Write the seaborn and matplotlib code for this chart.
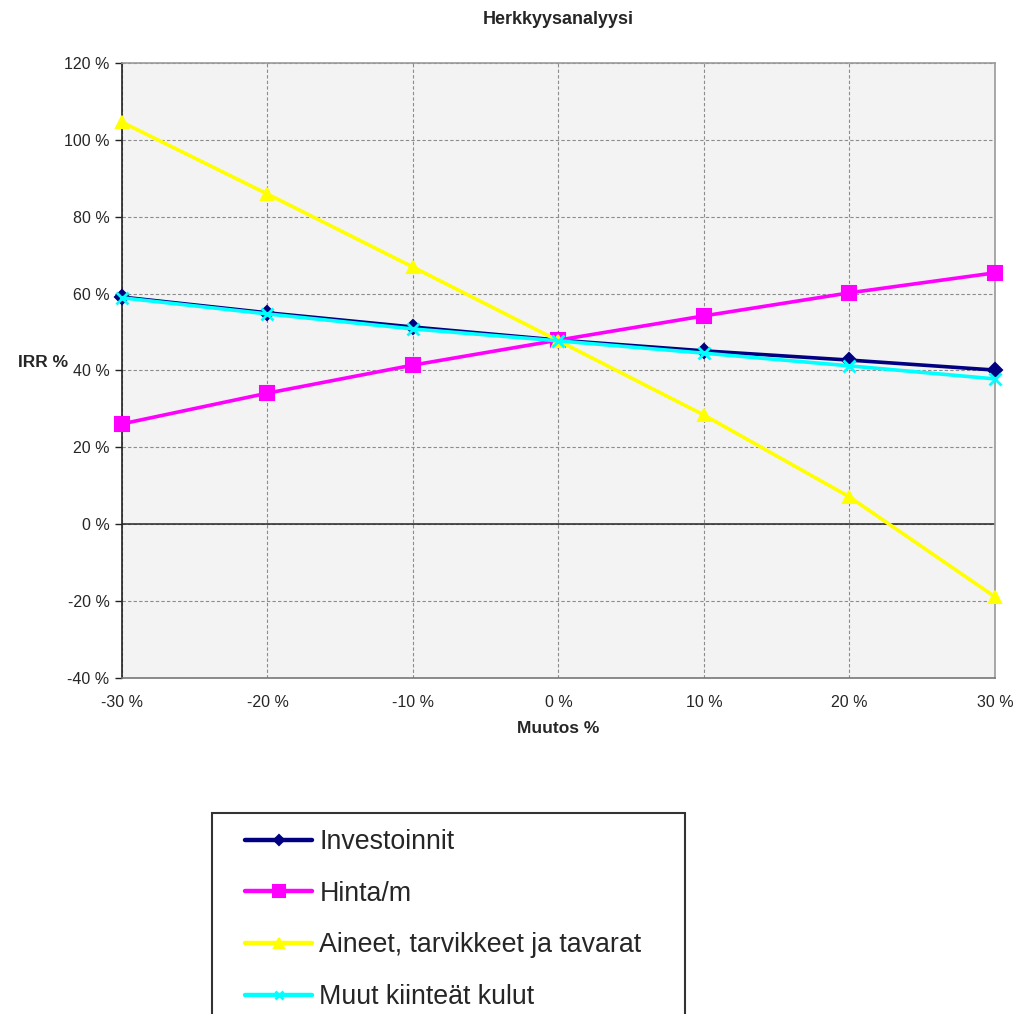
import matplotlib
matplotlib.use("Agg")
import matplotlib.pyplot as plt
from matplotlib.patches import Rectangle
from matplotlib.ticker import FuncFormatter, MultipleLocator
import seaborn as sns
import pandas as pd

# Sensitivity analysis: IRR % as a function of change %
muutos = [-30, -20, -10, 0, 10, 20, 30]
investoinnit = [59.1, 55.0, 51.3, 47.9, 45.1, 42.7, 40.1]
hinta_m = [26.1, 34.1, 41.4, 47.9, 54.2, 60.2, 65.4]
aineet = [104.6, 85.9, 66.9, 47.7, 28.4, 7.1, -18.9]
muut_kulut = [58.9, 54.7, 50.8, 47.7, 44.5, 41.2, 37.8]

series_names = ["Investoinnit", "Hinta/m", "Aineet, tarvikkeet ja tavarat", "Muut kiinteät kulut"]
series_values = [investoinnit, hinta_m, aineet, muut_kulut]

sns.set_theme(style="white")
plt.rcParams["font.family"] = ["Liberation Sans", "DejaVu Sans"]

rows = []
for name, vals in zip(series_names, series_values):
    for x, y in zip(muutos, vals):
        rows.append({"Muutos": x, "IRR": y, "Sarja": name})
df = pd.DataFrame(rows)

colors = {
    "Investoinnit": "#000080",
    "Hinta/m": "#ff00ff",
    "Aineet, tarvikkeet ja tavarat": "#ffff00",
    "Muut kiinteät kulut": "#00ffff",
}
markers = {
    "Investoinnit": "D",
    "Hinta/m": "s",
    "Aineet, tarvikkeet ja tavarat": "^",
    "Muut kiinteät kulut": "x",
}
msizes = {
    "Investoinnit": 7,
    "Hinta/m": 10,
    "Aineet, tarvikkeet ja tavarat": 9,
    "Muut kiinteät kulut": 8,
}

fig = plt.figure(figsize=(10.19, 10.14), dpi=100)
ax = fig.add_axes([0.1197, 0.3314, 0.8567, 0.6065])
ax.set_facecolor("#f3f3f3")

for name in series_names:
    sub = df[df["Sarja"] == name]
    sns.lineplot(
        data=sub, x="Muutos", y="IRR", ax=ax, color=colors[name],
        marker=markers[name], markersize=msizes[name],
        markeredgecolor=colors[name],
        markeredgewidth=2 if name == "Muut kiinteät kulut" else 1.5,
        linewidth=2.6, label=name, legend=False, zorder=3, clip_on=False,
    )

ax.set_xlim(-30, 30)
ax.set_ylim(-40, 120)
ax.xaxis.set_major_locator(MultipleLocator(10))
ax.yaxis.set_major_locator(MultipleLocator(20))
ax.xaxis.set_major_formatter(FuncFormatter(lambda v, p: f"{v:.0f} %"))
ax.yaxis.set_major_formatter(FuncFormatter(lambda v, p: f"{v:.0f} %"))

ax.grid(True, color="#8c8c8c", linestyle=(0, (3, 2)), linewidth=0.8, zorder=1)
ax.axhline(0, color="#333333", linewidth=1.2, zorder=2)

for side in ["top", "right"]:
    ax.spines[side].set_color("#9a9a9a")
    ax.spines[side].set_linewidth(1.2)
ax.spines["left"].set_color("#222222")
ax.spines["left"].set_linewidth(1.2)
ax.spines["bottom"].set_color("#777777")
ax.spines["bottom"].set_linewidth(1.2)

ax.tick_params(axis="y", which="major", direction="out", length=5, width=1,
               color="#222222", labelsize=11.5, pad=4, left=True)
ax.tick_params(axis="x", which="major", length=0, labelsize=11.5, pad=12)

ax.set_title("Herkkyysanalyysi", fontsize=13, fontweight="bold", pad=28)
ax.set_xlabel("Muutos %", fontsize=12.5, fontweight="bold", labelpad=8)
ax.set_ylabel("IRR %", fontsize=12.5, fontweight="bold", rotation=0, labelpad=0)
ax.yaxis.set_label_coords(-0.09, 0.5)

# Legend below the chart, inside a plain box that runs off the bottom edge
handles, labels = ax.get_legend_handles_labels()
leg = fig.legend(
    handles, labels, loc="upper left",
    bbox_to_anchor=(245 / 1019, 1 - 829 / 1014),
    bbox_transform=fig.transFigure,
    frameon=False, handlelength=2.5, handletextpad=0.27,
    labelspacing=0.96, borderpad=0.0, borderaxespad=0.0, markerscale=0.8,
    prop={"family": ["Liberation Sans", "DejaVu Sans"], "size": 19.3},
)
for line in leg.get_lines():
    line.set_linewidth(3.2)
fig.patches.append(Rectangle((212 / 1019, -0.05), 473 / 1019, 0.05 + 1 - 813 / 1014,
                             transform=fig.transFigure, fill=False,
                             edgecolor="#333333", linewidth=1.5))

fig.savefig("out.png", dpi=100)
